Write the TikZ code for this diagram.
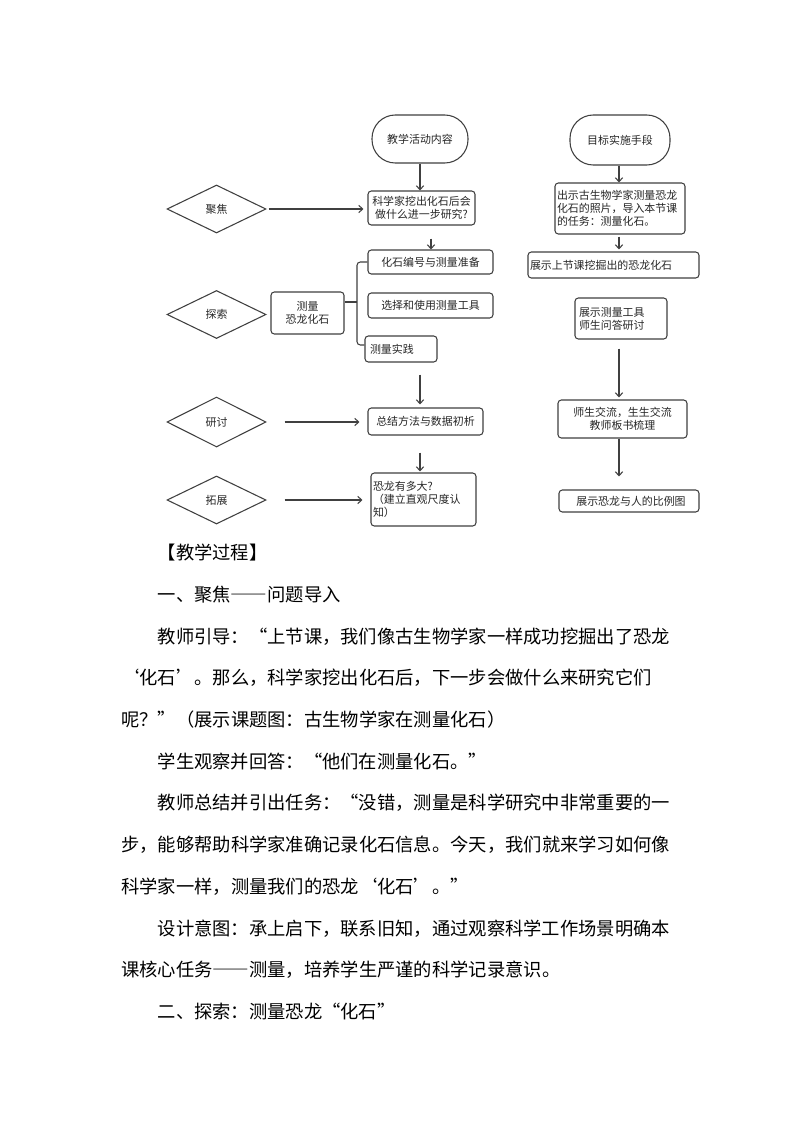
\documentclass[tikz,border=0pt]{standalone}
\usepackage{fontspec}
\usetikzlibrary{arrows.meta,shapes.geometric}
\newfontfamily\cjkfc{Noto Sans CJK SC}
\newfontfamily\cjkbody{Noto Sans CJK SC}[RawFeature=+fwid]
\XeTeXlinebreaklocale "zh"
\XeTeXlinebreakskip=0pt plus 3pt
\definecolor{lc}{HTML}{404040}
\definecolor{tc}{HTML}{262626}
\newcommand\pxu{0.75pt}
\newcommand\fcf{\cjkfc\fontsize{8.2pt}{9.8pt}\selectfont}
\newcommand\bdf{\cjkbody\fontsize{13.72pt}{16pt}\selectfont}
\newcommand\jfull[1]{\hbox to 411.75pt{#1}}
\newcommand\jind[1]{\hbox to 384.4pt{#1}}
\tikzset{
  fcbox/.style={draw=lc, line width=0.8pt, rounded corners=2.5pt, font=\fcf, text=tc, inner sep=0pt, align=center},
  fcleft/.style={draw=lc, line width=0.8pt, rounded corners=2.5pt, font=\fcf, text=tc, inner ysep=0pt, align=left},
  term/.style={draw=lc, line width=0.8pt, rounded corners=17.5pt, font=\fcf, text=tc, inner sep=0pt},
  dia/.style={draw=lc, line width=0.8pt, diamond, aspect=2, inner sep=0pt, font=\fcf, text=tc},
  arr/.style={draw=lc, line width=0.8pt, -{Straight Barb[length=3pt,width=5.5pt]}},
  link/.style={draw=lc, line width=0.8pt},
  bline/.style={anchor=west, inner sep=0pt, font=\bdf, text=black}
}
\begin{document}
\begin{tikzpicture}[x=0.75pt,y=-0.75pt]
\useasboundingbox (0,0) rectangle (794,1123);
\fill[white] (0,0) rectangle (794,1123);

% left column
\node[term, minimum width=96*\pxu, minimum height=48*\pxu] (t1) at (420,139) {教学活动内容};
\node[fcbox, minimum width=107*\pxu, minimum height=34*\pxu] (b1) at (421.5,208) {科学家挖出化石后会\\做什么进一步研究?};
\node[dia, minimum width=99*\pxu, minimum height=48*\pxu] (d1) at (216.5,209) {聚焦};
\node[fcbox, minimum width=125*\pxu, minimum height=24*\pxu] (c1) at (430.5,262) {化石编号与测量准备};
\node[fcbox, minimum width=125*\pxu, minimum height=25*\pxu] (c2) at (430.5,305.5) {选择和使用测量工具};
\node[fcleft, text width=62*\pxu, inner xsep=5*\pxu, minimum height=26*\pxu] (c3) at (401,349) {测量实践};
\node[fcbox, minimum width=73*\pxu, minimum height=42*\pxu] (m) at (307.5,313) {测量\\恐龙化石};
\node[dia, minimum width=99*\pxu, minimum height=48*\pxu] (d2) at (216.5,314.5) {探索};
\node[fcbox, minimum width=115*\pxu, minimum height=27*\pxu] (s1) at (425.5,421.5) {总结方法与数据初析};
\node[dia, minimum width=99*\pxu, minimum height=50*\pxu] (d3) at (216.5,422) {研讨};
\node[fcleft, text width=101*\pxu, inner xsep=2*\pxu, minimum height=53*\pxu] (e1) at (423.5,499.5) {恐龙有多大?\\（建立直观尺度认\\知）};
\node[dia, minimum width=99*\pxu, minimum height=48*\pxu] (d4) at (216.5,500) {拓展};

\draw[arr] (t1.south) -- (t1.south |- b1.north);
\draw[arr, shorten <=1.5pt, shorten >=3pt] (d1.east) -- (b1.west |- d1.east);
\draw[arr, shorten <=9.75pt] (b1.south -| 431,0) -- (c1.north -| 431,0);
\draw[link, rounded corners=2.5pt] (c1.west) -- (357,262) -- (357,345) -- (c3.west |- 0,345);
\draw[link] (m.east |- 0,302) -- (357,302);
\draw[arr, shorten <=9pt, shorten >=2.25pt] (c3.south -| 420,0) -- (s1.north -| 420,0);
\draw[arr, shorten <=13.5pt, shorten >=6pt] (d3.east) -- (s1.west |- d3.east);
\draw[arr, shorten <=12.75pt, shorten >=0.75pt] (s1.south -| 420,0) -- (e1.north -| 420,0);
\draw[arr, shorten <=13.5pt, shorten >=6pt] (d4.east) -- (e1.west |- d4.east);

% right column
\node[term, minimum width=100*\pxu, minimum height=50*\pxu] (t2) at (620,140) {目标实施手段};
\node[fcleft, text width=126*\pxu, inner xsep=2*\pxu, minimum height=51*\pxu] (r1) at (620,208.5) {出示古生物学家测量恐龙\\化石的照片，导入本节课\\的任务：测量化石。};
\node[fcleft, text width=167*\pxu, inner xsep=2*\pxu, minimum height=26*\pxu] (r2) at (613.5,265) {展示上节课挖掘出的恐龙化石};
\node[fcleft, text width=84*\pxu, inner xsep=4*\pxu, minimum height=41*\pxu] (r3) at (621,318.5) {展示测量工具\\师生问答研讨};
\node[fcbox, minimum width=129*\pxu, minimum height=38*\pxu] (r4) at (622.5,419) {师生交流，生生交流\\教师板书梳理};
\node[fcbox, minimum width=140*\pxu, minimum height=22*\pxu] (r5) at (629,501) {\hspace*{3pt}展示恐龙与人的比例图};

\draw[arr] (t2.south -| 619,0) -- (r1.north -| 619,0);
\draw[arr, shorten <=1.5pt, shorten >=1.5pt] (r1.south -| 619,0) -- (r2.north -| 619,0);
\draw[arr, shorten <=6.75pt, shorten >=1.5pt] (r3.south -| 619,0) -- (r4.north -| 619,0);
\draw[arr, shorten >=9.75pt] (r4.south -| 619,0) -- (r5.north -| 619,0);

% body text
\node[bline] (l0) at (157.5,553) {【教学过程】};
\node[bline] (l1) at (157.5,594.7) {一、聚焦——问题导入};
\node[bline] (l2) at (157.5,636.4) {\jind{教师引导：“上节课，我们像古生物学家一样成功挖掘出了恐龙}};
\node[bline] (l3) at (121,678.1) {\jfull{‘化石’。那么，科学家挖出化石后，下一步会做什么来研究它们}};
\node[bline] (l4) at (121,719.8) {呢？”（展示课题图：古生物学家在测量化石）};
\node[bline] (l5) at (157.5,761.5) {学生观察并回答：“他们在测量化石。”};
\node[bline] (l6) at (157.5,803.2) {\jind{教师总结并引出任务：“没错，测量是科学研究中非常重要的一}};
\node[bline] (l7) at (121,844.9) {\jfull{步，能够帮助科学家准确记录化石信息。今天，我们就来学习如何像}};
\node[bline] (l8) at (121,886.6) {科学家一样，测量我们的恐龙‘化石’。”};
\node[bline] (l9) at (157.5,928.3) {\jind{设计意图：承上启下，联系旧知，通过观察科学工作场景明确本}};
\node[bline] (l10) at (121,970) {课核心任务——测量，培养学生严谨的科学记录意识。};
\node[bline] (l11) at (157.5,1011.7) {二、探索：测量恐龙“化石”};
\end{tikzpicture}
\end{document}
